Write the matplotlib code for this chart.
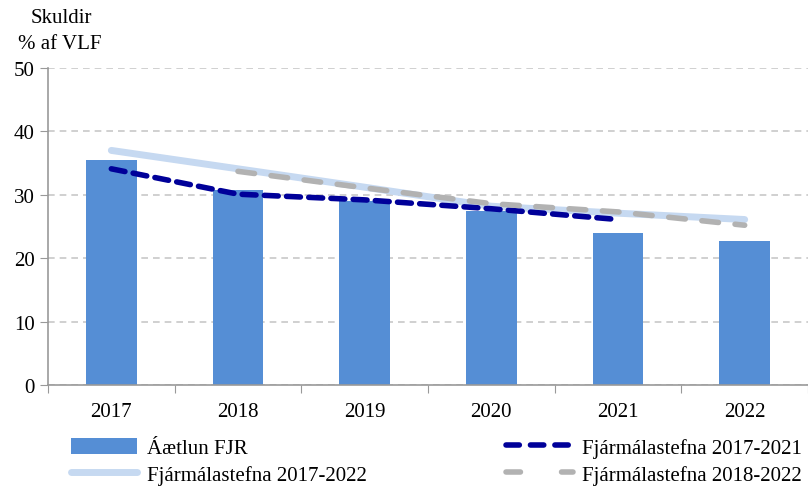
import matplotlib.pyplot as plt
from matplotlib.lines import Line2D
import numpy as np

plt.rcParams['font.family'] = ['Liberation Serif', 'DejaVu Serif']

years = ['2017', '2018', '2019', '2020', '2021', '2022']
aaetlun = [35.5, 30.8, 29.0, 27.5, 24.0, 22.7]
fs_2017_2022 = [37.0, 34.1, 31.2, 28.2, 27.1, 26.1]
fs_2017_2021 = [34.1, 30.1, 29.2, 27.8, 26.1]
fs_2018_2022 = [33.7, 31.1, 28.6, 27.3, 25.2]

fig = plt.figure(figsize=(8.08, 4.89), dpi=100)
ax = fig.add_axes([0.0594, 0.2106, 0.9406, 0.6483])

x = np.arange(len(years))
bars = ax.bar(x, aaetlun, width=0.4, color='#558ED5', zorder=2)
ax.plot(x, fs_2017_2022, color='#C6D9F1', lw=5, solid_capstyle='round', zorder=3)
ax.plot(x[:5], fs_2017_2021, color='#000099', lw=4, dashes=(2.5, 1.5),
        dash_capstyle='round', zorder=4)
ax.plot(x[1:], fs_2018_2022, color='#B2B2B2', lw=4, dashes=(3, 3),
        dash_capstyle='round', zorder=4)

ax.set_xlim(-0.5, 5.5)
ax.set_ylim(0, 50)
ax.set_yticks(range(0, 51, 10))
ax.yaxis.grid(True, color='#C8C8C8', ls=(0, (4, 3)), lw=1.2, zorder=0)
ax.tick_params(axis='y', labelsize=15, length=6, color='#999999', direction='out')

# year labels in the middle, tick marks between categories
ax.set_xticks(np.arange(-0.5, 6, 1))
ax.set_xticklabels([])
ax.set_xticks(x, minor=True)
ax.set_xticklabels(years, minor=True)
ax.tick_params(axis='x', which='major', length=6, color='#999999')
ax.tick_params(axis='x', which='minor', length=0, labelsize=15, pad=12)

for s in ['top', 'right']:
    ax.spines[s].set_visible(False)
ax.spines['left'].set_color('#999999')
ax.spines['bottom'].set_color('#999999')
ax.spines['left'].set_linewidth(1.2)
ax.spines['bottom'].set_linewidth(1.2)

fig.text(0.076, 0.962, 'Skuldir', fontsize=15, ha='center', va='center')
fig.text(0.074, 0.908, '% af VLF', fontsize=15, ha='center', va='center')

# legend handles with dash patterns that fit the handle length
h1 = Line2D([], [], color='#C6D9F1', lw=5, solid_capstyle='round')
h2 = Line2D([], [], color='#000099', lw=4, dashes=(2.4, 2.0), dash_capstyle='round')
h3 = Line2D([], [], color='#B2B2B2', lw=4, dashes=(2.6, 7.4), dash_capstyle='round')

fig.legend([bars, h1, h2, h3],
           ['Áætlun FJR', 'Fjármálastefna 2017-2022',
            'Fjármálastefna 2017-2021', 'Fjármálastefna 2018-2022'],
           ncol=2, loc='lower left', bbox_to_anchor=(0.077, -0.01),
           frameon=False, fontsize=15, handlelength=3.2, handleheight=0.8,
           handletextpad=0.45, columnspacing=6.7, labelspacing=0.3,
           borderaxespad=0)

fig.savefig('out.png', dpi=100)
